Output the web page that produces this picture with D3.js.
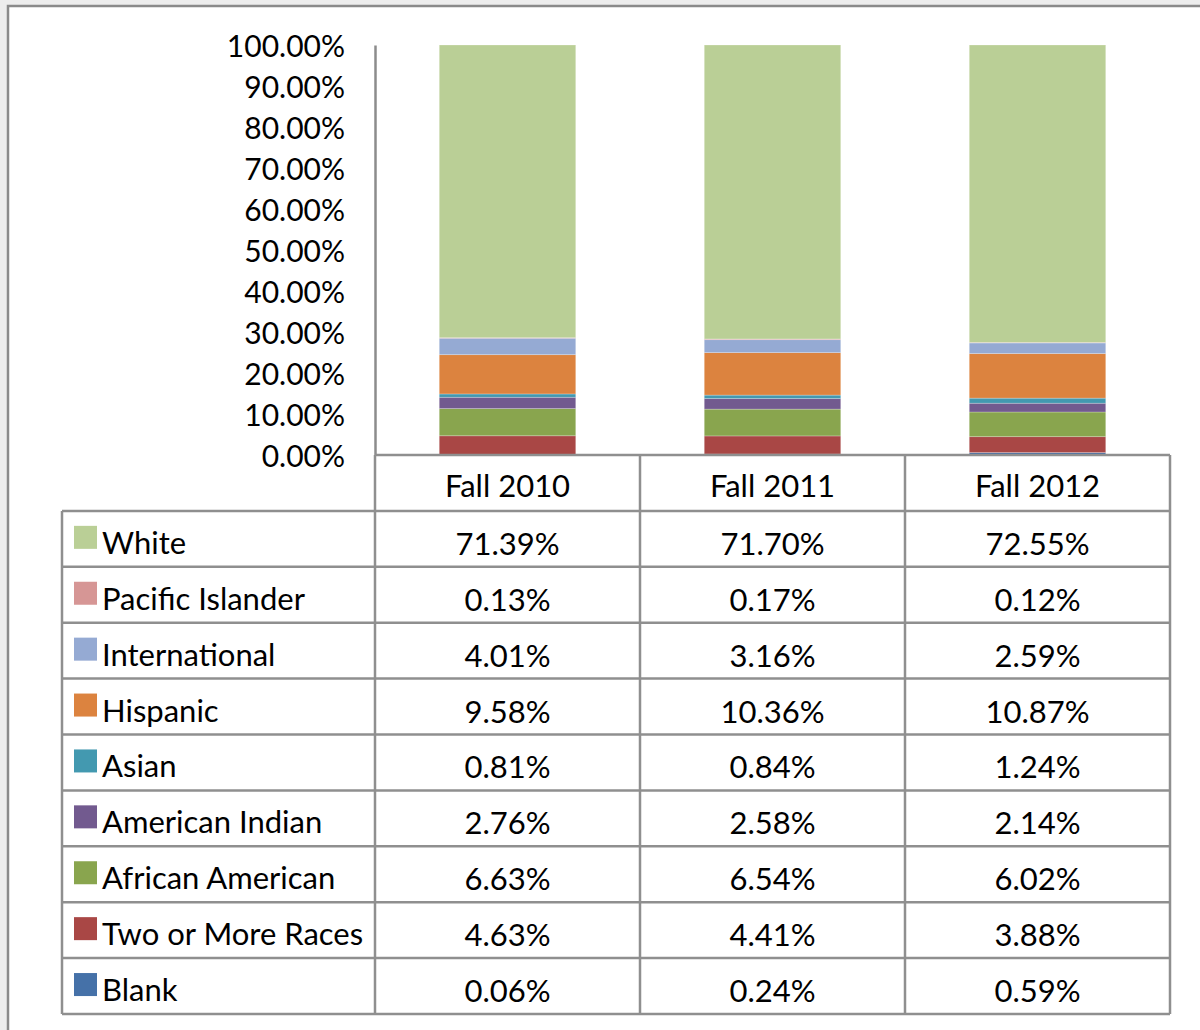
<!DOCTYPE html>
<html lang="en">

<head>
  <meta charset="UTF-8">
  <title>Enrollment by Ethnicity</title>
  <script src="https://d3js.org/d3.v7.min.js"></script>
  <style>
    body { margin: 0; background: #fff; }
    text { font-family: Lato, "Open Sans", sans-serif; fill: #000; }
  </style>
</head>

<body>

  <script>
    // Data (percent of enrollment)
    const periods = ['Fall 2010', 'Fall 2011', 'Fall 2012'];
    const groups = ['White', 'Pacific Islander', 'International', 'Hispanic', 'Asian',
      'American Indian', 'African American', 'Two or More Races', 'Blank'];

    const white = [71.39, 71.70, 72.55];
    const pacificIslander = [0.13, 0.17, 0.12];
    const international = [4.01, 3.16, 2.59];
    const hispanic = [9.58, 10.36, 10.87];
    const asian = [0.81, 0.84, 1.24];
    const americanIndian = [2.76, 2.58, 2.14];
    const africanAmerican = [6.63, 6.54, 6.02];
    const twoOrMore = [4.63, 4.41, 3.88];
    const blank = [0.06, 0.24, 0.59];

    const yTicks = [0, 10, 20, 30, 40, 50, 60, 70, 80, 90, 100];

    const seriesValues = [white, pacificIslander, international, hispanic, asian,
      americanIndian, africanAmerican, twoOrMore, blank];

    const colors = ['#bacf96', '#d69695', '#95aad3', '#dc833f', '#4399b0',
      '#725a8f', '#89a54e', '#a94745', '#4571a8'];

    // build rows for d3.stack
    const rows = periods.map((p, i) => {
      const r = { period: p };
      groups.forEach((g, k) => { r[g] = seriesValues[k][i]; });
      return r;
    });

    const width = 1200;
    const height = 1030;
    const fontSize = 31;

    const svg = d3.select('body')
      .append('svg')
      .attr('width', width)
      .attr('height', height);

    // faint page background and frame
    svg.append('rect')
      .attr('width', width)
      .attr('height', height)
      .attr('fill', '#ededed');

    svg.append('rect')
      .attr('x', 8)
      .attr('y', 6)
      .attr('width', width + 20)
      .attr('height', height + 20)
      .attr('fill', '#fff')
      .attr('stroke', '#8a8a8a')
      .attr('stroke-width', 2.5);

    // scales
    const xScale = d3.scaleBand()
      .domain(periods)
      .range([375, 1170]);

    const yScale = d3.scaleLinear()
      .domain([0, 100])
      .range([455, 45]);

    const color = d3.scaleOrdinal()
      .domain(groups)
      .range(colors);

    const barShare = 0.515;

    // stacked bars, Blank at bottom
    const stack = d3.stack().keys(groups.slice().reverse());
    const layers = stack(rows);

    svg.append('g')
      .selectAll('g')
      .data(layers)
      .enter()
      .append('g')
      .attr('fill', d => color(d.key))
      .selectAll('rect')
      .data(d => d)
      .enter()
      .append('rect')
      .attr('x', d => xScale(d.data.period) + xScale.bandwidth() * (1 - barShare) / 2)
      .attr('width', xScale.bandwidth() * barShare)
      .attr('y', d => yScale(d[1]))
      .attr('height', d => yScale(d[0]) - yScale(d[1]))
      .attr('stroke', '#ffffff')
      .attr('stroke-opacity', 0.3)
      .attr('stroke-width', 0.8);

    // y axis
    const yAxis = d3.axisLeft(yScale)
      .tickValues(yTicks)
      .tickSize(0)
      .tickPadding(30)
      .tickFormat(d => d3.format('.2f')(d) + '%');

    const yAxisG = svg.append('g')
      .attr('transform', 'translate(375,0)')
      .call(yAxis);

    yAxisG.select('.domain')
      .attr('stroke', '#8c8c8c')
      .attr('stroke-width', 2.5);

    yAxisG.selectAll('.tick text')
      .attr('font-family', 'Lato, "Open Sans", sans-serif')
      .attr('font-size', 30)
      .attr('fill', '#000')
      .attr('dy', '0.38em');

    // data table under the chart
    const rowScale = d3.scaleBand()
      .domain(['header'].concat(groups))
      .range([455, 1014]);

    const tableLeft = 62;
    const tableRight = 1170;
    const lineColor = '#8f8f8f';
    const table = svg.append('g');

    // header cells (only the period columns)
    table.selectAll('text.head')
      .data(periods)
      .enter()
      .append('text')
      .attr('class', 'head')
      .attr('x', d => xScale(d) + xScale.bandwidth() / 2)
      .attr('y', rowScale('header') + rowScale.bandwidth() / 2 + 2)
      .attr('text-anchor', 'middle')
      .attr('dominant-baseline', 'central')
      .attr('font-size', fontSize)
      .text(d => d);

    // body rows
    const bodyRows = table.selectAll('g.row')
      .data(groups)
      .enter()
      .append('g')
      .attr('class', 'row')
      .attr('transform', d => `translate(0,${rowScale(d)})`);

    bodyRows.append('rect')
      .attr('x', 74)
      .attr('y', rowScale.bandwidth() / 2 - 13)
      .attr('width', 23)
      .attr('height', 23)
      .attr('fill', d => color(d));

    bodyRows.append('text')
      .attr('x', 102)
      .attr('y', rowScale.bandwidth() / 2 + 3)
      .attr('dominant-baseline', 'central')
      .attr('font-size', fontSize)
      .text(d => d);

    bodyRows.selectAll('text.val')
      .data(d => periods.map((p, i) => ({ period: p, value: seriesValues[groups.indexOf(d)][i] })))
      .enter()
      .append('text')
      .attr('class', 'val')
      .attr('x', d => xScale(d.period) + xScale.bandwidth() / 2)
      .attr('y', rowScale.bandwidth() / 2 + 4)
      .attr('text-anchor', 'middle')
      .attr('dominant-baseline', 'central')
      .attr('font-size', fontSize)
      .text(d => d3.format('.2f')(d.value) + '%');

    // grid lines
    const hLines = groups.concat(['end']);
    table.selectAll('line.h')
      .data(hLines)
      .enter()
      .append('line')
      .attr('x1', tableLeft)
      .attr('x2', tableRight)
      .attr('y1', d => d === 'end' ? rowScale.range()[1] : rowScale(d))
      .attr('y2', d => d === 'end' ? rowScale.range()[1] : rowScale(d))
      .attr('stroke', lineColor)
      .attr('stroke-width', 2.5);

    // top line of header only spans the period columns
    table.append('line')
      .attr('x1', 375)
      .attr('x2', tableRight)
      .attr('y1', rowScale('header'))
      .attr('y2', rowScale('header'))
      .attr('stroke', lineColor)
      .attr('stroke-width', 2.5);

    // left border of the label column
    table.append('line')
      .attr('x1', tableLeft)
      .attr('x2', tableLeft)
      .attr('y1', rowScale(groups[0]))
      .attr('y2', rowScale.range()[1])
      .attr('stroke', lineColor)
      .attr('stroke-width', 2.5);

    // column separators
    const vLines = periods.concat(['end']);
    table.selectAll('line.v')
      .data(vLines)
      .enter()
      .append('line')
      .attr('x1', d => d === 'end' ? tableRight : xScale(d))
      .attr('x2', d => d === 'end' ? tableRight : xScale(d))
      .attr('y1', rowScale('header'))
      .attr('y2', rowScale.range()[1])
      .attr('stroke', lineColor)
      .attr('stroke-width', 2.5);
  </script>

</body>

</html>
